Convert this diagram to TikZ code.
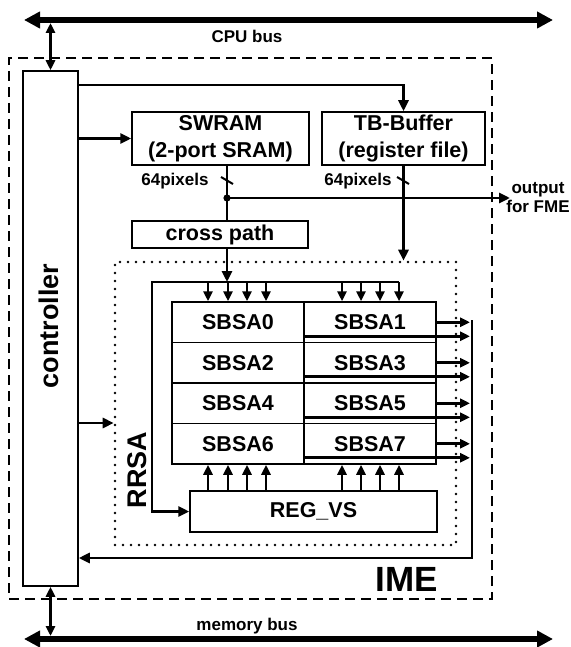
\documentclass[tikz,border=0pt]{standalone}
\usepackage{fontspec}
\setmainfont{Liberation Sans}
\usetikzlibrary{arrows.meta,calc}
\begin{document}
\begin{tikzpicture}[x=1pt,y=-1pt,
  box/.style={draw,line width=1.5pt,inner sep=0pt,align=center,font=\fontsize{21.5}{27}\selectfont\bfseries},
  cell/.style={box,minimum width=132pt,minimum height=40.5pt},
  conn/.style={line width=2.9pt},
  arr/.style={conn,-{Triangle[length=11pt,width=10pt]}},
  sarr/.style={line width=2.6pt,-{Triangle[length=10pt,width=9pt]}},
  dbl/.style={line width=2.6pt,{Triangle[length=10pt,width=9pt]}-{Triangle[length=10pt,width=9pt]}},
  bus/.style={line width=6pt,{Triangle[length=16pt,width=16pt]}-{Triangle[length=16pt,width=16pt]}},
  lbl/.style={font=\fontsize{17}{19}\selectfont\bfseries,inner sep=0pt,align=center},
  tick/.style={line width=2pt},
]
\fill[white] (0,0) rectangle (570,647);
\useasboundingbox (0,0) rectangle (570,647);

% frames
\node[draw,line width=2.4pt,dash pattern=on 10pt off 6pt,minimum width=483pt,minimum height=541pt,inner sep=0pt] (ime) at (250.5,328.5) {};
\node[draw,line width=2.6pt,line cap=round,dash pattern=on 0pt off 8pt,minimum width=341pt,minimum height=283pt,inner sep=0pt] (rr) at (285.5,403.5) {};
\node[font=\fontsize{35}{38}\selectfont\bfseries,inner sep=0pt] (imelbl) at (407,579) {IME};
\node[rotate=90,font=\fontsize{27}{30}\selectfont\bfseries,inner sep=0pt] (rrlbl) at (137,470) {RRSA};

% boxes
\node[box,minimum width=55pt,minimum height=515pt] (ctrl) at (50.5,328.5) {};
\node[rotate=90,font=\fontsize{27}{30}\selectfont\bfseries,inner sep=0pt] (ctrllbl) at (49,326) {controller};
\node[box,minimum width=177pt,minimum height=53pt] (sw) at (220.5,138.5) {SWRAM\\(2-port SRAM)};
\node[box,minimum width=163pt,minimum height=53pt] (tb) at (403.5,138.5) {TB-Buffer\\(register file)};
\node[box,minimum width=176pt,minimum height=27pt] (cp) at (220,234.5) {cross path};
\node[box,minimum width=247pt,minimum height=41pt] (reg) at (313.5,511.5) {REG\_VS};

\node[cell] (s0) at (238,322.25) {SBSA0};
\node[cell] (s1) at (370,322.25) {SBSA1};
\node[cell] (s2) at (238,362.75) {SBSA2};
\node[cell] (s3) at (370,362.75) {SBSA3};
\node[cell] (s4) at (238,403.25) {SBSA4};
\node[cell] (s5) at (370,403.25) {SBSA5};
\node[cell] (s6) at (238,443.75) {SBSA6};
\node[cell] (s7) at (370,443.75) {SBSA7};

% buses
\coordinate (cpuL) at (24,20);
\coordinate (cpuR) at (553,20);
\coordinate (memL) at (24,639);
\coordinate (memR) at (553,639);
\draw[bus] (cpuL) -- (cpuR);
\draw[bus] (memL) -- (memR);
\node[lbl] (cpulbl) at (247,36) {CPU bus};
\node[lbl] (memlbl) at (247,626) {memory bus};
\coordinate (cpub) at (0,23);
\coordinate (memb) at (0,636);
\draw[dbl] (ctrl.north) -- (ctrl.north |- cpub);
\draw[dbl] (ctrl.south) -- (ctrl.south |- memb);

% controller outputs
\coordinate (c1) at (0,85);
\coordinate (c3) at (0,423);
\draw[arr] (ctrl.east |- c1) -| (tb.north);
\draw[arr] (ctrl.east |- sw.west) -- (sw.west);
\draw[arr] (ctrl.east |- c3) -- (rr.west |- c3);

% SWRAM path
\coordinate (sx) at (227,0);
\coordinate (j) at (227,198);
\coordinate (out) at (510,0);
\draw[conn] (sw.south -| sx) -- (cp.north -| sx);
\fill (j) circle (3.6pt);
\draw[arr] (j) -- (j -| out);
\node[lbl] (outlbl) at (538,197.5) {output\\for FME};
\draw[tick] (221,177) -- (233,184);
\node[lbl] (px1) at (175,181) {64pixels};

% TB path
\draw[arr] (tb.south) -- (rr.north -| tb.south);
\draw[tick] (397,177) -- (409,184);
\node[lbl] (px2) at (358,181) {64pixels};

% distribution bus
\coordinate (bl) at (152,282);
\coordinate (br) at (399,282);
\draw[arr] (cp.south -| sx) -- (bl -| sx);
\draw[arr] (br) -- (bl) |- (reg.west);
\foreach \x in {208,228,247,266,342,361,380,399}{
  \coordinate (t) at (\x,0);
  \draw[sarr] (bl -| t) -- (s0.north -| t);
  \draw[sarr] (reg.north -| t) -- (s6.south -| t);
}

% outputs of SBSA
\coordinate (vx) at (470,0);
\foreach \n in {s1,s3,s5,s7}{
  \draw[sarr] (\n.east) -- (\n.east -| vx);
  \coordinate (l) at ($(\n.south west)+(0,-7)$);
  \draw[sarr] (l) -- (l -| vx);
}
\coordinate (vtop) at (472,320);
\coordinate (fb) at (472,558);
\draw[arr] (vtop) -- (fb) -- (fb -| ctrl.east);
\end{tikzpicture}
\end{document}
